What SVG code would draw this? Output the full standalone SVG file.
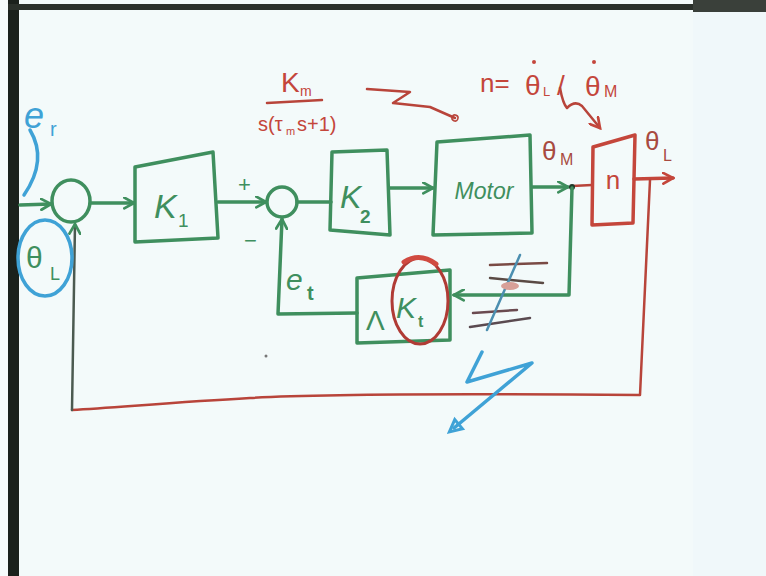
<svg xmlns="http://www.w3.org/2000/svg" width="766" height="576" viewBox="0 0 766 576">
<style>
.g{fill:none;stroke:#3f8f5e;stroke-width:3.5;stroke-linecap:round;stroke-linejoin:round}
.r{fill:none;stroke:#c4463b;stroke-width:3.5;stroke-linecap:round;stroke-linejoin:round}
.rt{fill:none;stroke:#b8443a;stroke-width:2.5;stroke-linecap:round;stroke-linejoin:round}
.b{fill:none;stroke:#3fa2d6;stroke-width:3.5;stroke-linecap:round;stroke-linejoin:round}
.dk{fill:none;stroke:#4b5a50;stroke-width:2.5;stroke-linecap:round}
.tg{fill:#3f8f5e;font-family:"Liberation Sans",Arial,sans-serif}
.tr{fill:#c4463b;font-family:"Liberation Sans",Arial,sans-serif}
.tb{fill:#3fa2d6;font-family:"Liberation Sans",Arial,sans-serif}
.td{fill:#a84a40;font-family:"Liberation Sans",Arial,sans-serif}
</style>
<defs>
<marker id="ag" viewBox="0 0 12 12" refX="10" refY="6" markerWidth="13" markerHeight="13" markerUnits="userSpaceOnUse" orient="auto"><path d="M1,1 L10,6 L1,11" fill="none" stroke="#3f8f5e" stroke-width="2.5" stroke-linecap="round"/></marker>
<marker id="ar" viewBox="0 0 12 12" refX="10" refY="6" markerWidth="13" markerHeight="13" markerUnits="userSpaceOnUse" orient="auto"><path d="M1,1 L10,6 L1,11" fill="none" stroke="#c4463b" stroke-width="2.5" stroke-linecap="round"/></marker>
<marker id="ab" viewBox="0 0 12 12" refX="6" refY="6" markerWidth="18" markerHeight="18" markerUnits="userSpaceOnUse" orient="auto"><path d="M2,2 L10,6 L2,10 Z" fill="none" stroke="#3fa2d6" stroke-width="2"/></marker>
<marker id="ars" viewBox="0 0 12 12" refX="6" refY="6" markerWidth="9" markerHeight="9" markerUnits="userSpaceOnUse" orient="auto"><circle cx="6" cy="6" r="4" fill="none" stroke="#b8443a" stroke-width="2"/></marker>
</defs>
<!-- board / frame -->
<rect x="0" y="0" width="766" height="576" fill="#f3fafa"/>
<rect x="0" y="0" width="8" height="576" fill="#f6fbfb"/>
<rect x="8" y="0" width="11" height="576" fill="#1b211c"/>
<rect x="8" y="4" width="690" height="6" fill="#2a302a"/>
<rect x="693" y="0" width="73" height="12" fill="#3a403a"/>
<rect x="693" y="12" width="73" height="564" fill="#f0f8fa"/>

<!-- connectors -->
<g id="connectors">
<line class="g" x1="20" y1="205" x2="51" y2="204" marker-end="url(#ag)"/>
<line class="g" x1="91" y1="203" x2="134" y2="203" marker-end="url(#ag)"/>
<line class="g" x1="218" y1="202" x2="266" y2="202" marker-end="url(#ag)"/>
<line class="g" x1="297" y1="202" x2="331" y2="202"/>
<line class="g" x1="390" y1="188" x2="433" y2="188" marker-end="url(#ag)"/>
<line class="g" x1="532" y1="187" x2="568" y2="187" marker-end="url(#ag)"/>
<line class="rt" x1="572" y1="186" x2="592" y2="185"/>
<circle cx="572" cy="187" r="3" fill="#1f3a2a"/>
<line class="r" x1="634" y1="179" x2="673" y2="178" marker-end="url(#ar)"/>
<polyline class="g" points="572,188 569,295 454,295" marker-end="url(#ag)"/>
<polyline class="g" points="357,313 278,314 282,219" marker-end="url(#ag)"/>
<path class="rt" d="M650,180 L640,395 C520,394 330,393 250,398 C180,402 120,407 72,410"/>
<polyline class="dk" points="72,410 75,224" marker-end="url(#ag)"/>
</g>

<!-- nodes -->
<g id="sum1">
<ellipse class="g" cx="71" cy="201" rx="19" ry="21"/>
</g>
<g id="k1">
<path class="g" d="M135,167 L213,152 L218,238 L135,242 Z"/>
<text class="tg" x="154" y="218" font-size="34" font-style="italic">K</text>
<text class="tg" x="178" y="227" font-size="19">1</text>
</g>
<g id="sum2">
<circle class="g" cx="282" cy="202" r="15"/>
<text class="tg" x="238" y="192" font-size="22">+</text>
<text class="tg" x="244" y="248" font-size="22">−</text>
</g>
<g id="k2">
<path class="g" d="M332,152 L387,150 L390,235 L330,230 Z"/>
<text class="tg" x="340" y="208" font-size="32" font-style="italic">K</text>
<text class="tg" x="360" y="223" font-size="19" font-weight="bold">2</text>
</g>
<g id="motor">
<path class="g" d="M437,142 L530,135 L532,233 L433,235 Z"/>
<text class="tg" x="484" y="199" font-size="23" text-anchor="middle" font-style="italic">Motor</text>
</g>
<g id="n">
<path class="r" d="M593,147 L635,135 L633,223 L592,225 Z"/>
<text class="tr" x="613" y="189" font-size="26" text-anchor="middle">n</text>
</g>
<g id="kt">
<path class="g" d="M357,278 L450,270 L450,340 L357,343 Z"/>
<text class="tg" x="366" y="330" font-size="28">Λ</text>
<text class="tg" x="396" y="318" font-size="30" font-style="italic">K</text>
<text class="tg" x="418" y="327" font-size="16" font-weight="bold">t</text>
<ellipse cx="420" cy="301" rx="28" ry="43" fill="none" stroke="#b03b35" stroke-width="3"/>
<path d="M404,262 Q420,252 436,264" fill="none" stroke="#d04a40" stroke-width="5" stroke-linecap="round"/>
</g>

<!-- labels and annotations -->
<g id="labels">
<text class="tb" x="24" y="128" font-size="36" font-style="italic">e</text>
<text class="tb" x="50" y="136" font-size="20">r</text>
<path class="b" d="M30,130 Q48,160 24,195"/>
<ellipse class="b" cx="45" cy="258" rx="27" ry="38"/>
<text class="tg" x="26" y="268" font-size="30">θ</text>
<text class="tg" x="50" y="280" font-size="18">L</text>
<text class="tg" x="286" y="290" font-size="30" font-style="italic">e</text>
<text class="tg" x="307" y="300" font-size="20" font-weight="bold">t</text>
<text class="td" x="542" y="160" font-size="26">θ</text>
<text class="td" x="560" y="165" font-size="16">M</text>
<text class="td" x="645" y="150" font-size="26">θ</text>
<text class="td" x="663" y="161" font-size="16">L</text>
<!-- Km / s(tau s+1) -->
<text class="tr" x="281" y="92" font-size="28">K</text>
<text class="tr" x="300" y="96" font-size="14">m</text>
<line class="rt" x1="267" y1="103" x2="322" y2="100"/>
<text class="tr" x="258" y="131" font-size="20">s(τ</text>
<text class="tr" x="286" y="135" font-size="11">m</text>
<text class="tr" x="297" y="131" font-size="20">s+1)</text>
<polyline class="rt" points="367,89 410,92 393,103 430,107 455,118" marker-end="url(#ars)"/>
<!-- n = thetaL/thetaM -->
<text class="tr" x="480" y="92" font-size="26">n=</text>
<text class="tr" x="525" y="95" font-size="28">θ</text>
<text class="tr" x="543" y="96" font-size="13">L</text>
<circle cx="534" cy="62" r="2" fill="#c4463b"/>
<text class="tr" x="557" y="95" font-size="28">/</text>
<text class="tr" x="585" y="96" font-size="28">θ</text>
<text class="tr" x="604" y="97" font-size="16">M</text>
<circle cx="594" cy="62" r="2" fill="#c4463b"/>
<path class="rt" d="M560,88 Q563,104 567,108 Q575,100 582,106 L600,128" marker-end="url(#ar)"/>
<!-- strike marks -->
<g stroke-linecap="round" fill="none">
<line x1="490" y1="265" x2="547" y2="263" stroke="#7a4a44" stroke-width="2.5"/>
<line x1="490" y1="278" x2="543" y2="283" stroke="#5a4a44" stroke-width="2.5"/>
<line x1="473" y1="313" x2="517" y2="310" stroke="#6a4a50" stroke-width="2.5"/>
<line x1="470" y1="327" x2="530" y2="318" stroke="#5a4a50" stroke-width="2.5"/>
<line x1="520" y1="255" x2="487" y2="330" stroke="#4c8fb0" stroke-width="2.5"/>
<ellipse cx="510" cy="286" rx="9" ry="4" fill="#d8a098" stroke="none"/>
</g>
<!-- blue arrow -->
<polyline class="b" points="482,352 467,382 532,363 454,428" marker-end="url(#ab)"/>
<circle cx="266" cy="356" r="1.5" fill="#777"/>
</g>
</svg>
